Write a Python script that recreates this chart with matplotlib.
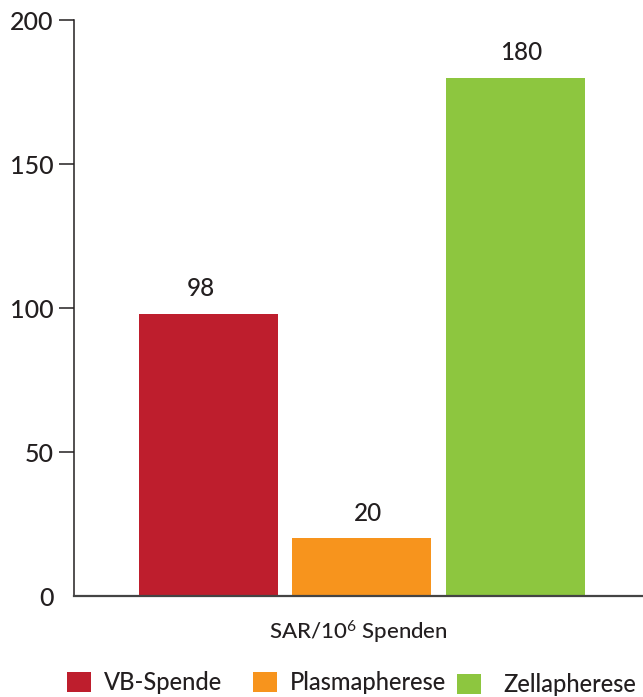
import matplotlib
matplotlib.use("Agg")
import matplotlib.pyplot as plt
from matplotlib.patches import Patch

categories = ["VB-Spende", "Plasmapherese", "Zellapherese"]
values = [98, 20, 180]
colors = ["#BE1E2D", "#F7941D", "#8DC63F"]
yticks = [0, 50, 100, 150, 200]
xlabel = "SAR/10$^6$ Spenden"

plt.rcParams['font.family'] = ['Lato', 'DejaVu Sans']
plt.rcParams['mathtext.fontset'] = 'custom'
plt.rcParams['mathtext.rm'] = 'Lato'
plt.rcParams['mathtext.it'] = 'Lato'
txt = '#231F20'

fig = plt.figure(figsize=(6.43, 6.97), dpi=100)
ax = fig.add_axes([74/643, 1-596/697, 1-74/643, (596-20.4)/697])

x = list(range(len(categories)))
ax.bar(x, values, width=0.9055, color=colors, zorder=1)
ax.set_xlim(-0.876, 2.831)
ax.set_ylim(0, 200)

label_dx = [-8, 6, 6]
for xi, v, dx in zip(x, values, label_dx):
    ax.annotate(str(v), (xi, v), xytext=(dx*0.72, 10), textcoords='offset points',
                ha='center', va='bottom', fontsize=17.5, color=txt, fontweight='medium')

ax.set_yticks(yticks)
ax.set_yticklabels([str(t) for t in yticks], fontsize=18, color=txt, fontweight='medium')
ax.tick_params(axis='y', length=10.8, width=1.1, pad=4.0, color='#231F20')
ax.yaxis.get_major_ticks()[0].tick1line.set_visible(False)
ax.set_xticks([])

for s in ['top', 'right']:
    ax.spines[s].set_visible(False)
ax.spines['left'].set_color('#231F20')
ax.spines['left'].set_linewidth(1.1)
ax.spines['bottom'].set_color('#444444')
ax.spines['bottom'].set_linewidth(1.6)
ax.spines['bottom'].set_zorder(3)

ax.text(0.5, -0.063, xlabel, transform=ax.transAxes, ha='center', va='center',
        fontsize=16, color=txt, fontweight='medium')

leg_x = [67/643, 253/643, 457/643]
leg_y = [682.5, 682.5, 684.5]
leg_pad = [0.55, 0.55, 0.95]
for cat, col, lx, ly, lp in zip(categories, colors, leg_x, leg_y, leg_pad):
    lg = fig.legend(handles=[Patch(facecolor=col, edgecolor='none', label=cat)],
                    loc='center left', bbox_to_anchor=(lx, 1-ly/697), frameon=False,
                    fontsize=17, handlelength=1.0, handleheight=0.9, handletextpad=lp,
                    borderpad=0, borderaxespad=0, labelcolor=txt)
    for t in lg.get_texts():
        t.set_fontweight('medium')

fig.savefig("out.png", dpi=100)
